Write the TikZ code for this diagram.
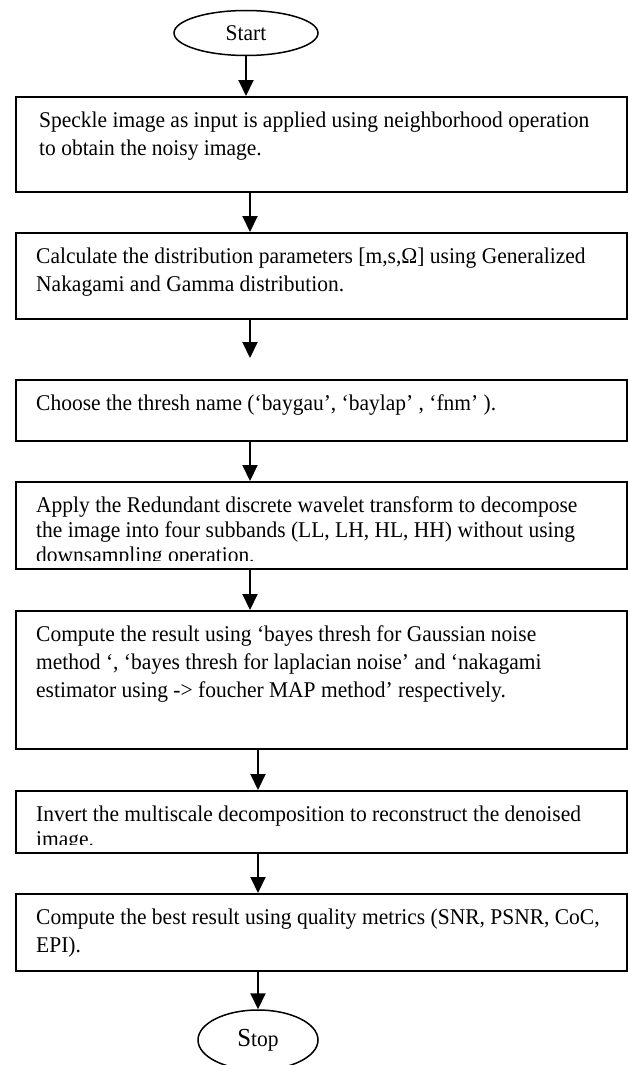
\documentclass[tikz,border=0pt]{standalone}
\usepackage{fontspec}
\setmainfont{Liberation Serif}[FakeStretch=0.955]
\usetikzlibrary{positioning,shapes,arrows.meta}

\tikzset{
  stepbox/.style={draw, line width=1.5pt, minimum width=611pt, anchor=north west, inner sep=0pt},
  steptext/.style={align=left, inner sep=0pt, font=\fontsize{22.5}{28}\selectfont},
  term/.style={draw, ellipse, line width=1.5pt, inner sep=0pt, font=\fontsize{22.5}{26}\selectfont},
  arr/.style={line width=2pt, -{Triangle[width=15pt,length=16pt]}}
}

\begin{document}
\begin{tikzpicture}[x=1pt, y=-1pt]
  \useasboundingbox (0,0) rectangle (627,1065);
  % start and stop
  \node[term, minimum width=144pt, minimum height=45pt] (start) at (246,33) {Start};
  \node[term, minimum width=120pt, minimum height=60pt] (stop) at (258,1040) {{\fontsize{26}{26}\selectfont S}top};
  % the seven steps
  \node[stepbox, minimum height=95pt] (b1) at (15,96) {};
  \node[stepbox, minimum height=86pt] (b2) at (15,232) {};
  \node[stepbox, minimum height=61pt] (b3) at (15,379) {};
  \node[stepbox, minimum height=87pt] (b4) at (15,481) {};
  \node[stepbox, minimum height=138pt] (b5) at (15,610) {};
  \node[stepbox, minimum height=62pt] (b6) at (15,790) {};
  \node[stepbox, minimum height=77pt] (b7) at (15,893) {};
  % texts, cut at the bottom of their box
  \begin{scope}
    \clip \foreach \b in {b1,b2,b3,b4,b5,b6,b7} {(\b.north west) rectangle ([yshift=9pt]\b.south east)};
    \node[steptext, below right=12pt and 24pt of b1.north west] (t1) {\strut Speckle image as input is applied using neighborhood operation\\to obtain the noisy image.};
    \node[steptext, below right=12pt and 21pt of b2.north west] (t2) {\strut Calculate the distribution parameters [m,s,Ω] using Generalized\\Nakagami and Gamma distribution.};
    \node[steptext, below right=12pt and 21pt of b3.north west] (t3) {\strut Choose the thresh name (‘baygau’, ‘baylap’ , ‘fnm’ ).};
    \node[steptext, below right=12pt and 21pt of b4.north west] (t4) {\strut Apply the Redundant discrete wavelet transform to decompose\\[-3pt]the image into four subbands (LL, LH, HL, HH) without using\\[-3pt]downsampling operation.};
    \node[steptext, below right=12pt and 21pt of b5.north west] (t5) {\strut Compute the result using ‘bayes thresh for Gaussian noise\\method ‘, ‘bayes thresh for laplacian noise’ and ‘nakagami\\estimator using -> foucher MAP method’ respectively.};
    \node[steptext, below right=12pt and 21pt of b6.north west] (t6) {\strut Invert the multiscale decomposition to reconstruct the denoised\\[-3pt]image.};
    \node[steptext, below right=12pt and 21pt of b7.north west] (t7) {\strut Compute the best result using quality metrics (SNR, PSNR, CoC,\\EPI).};
  \end{scope}
  % arrows
  \coordinate (colL) at (250,0);
  \coordinate (gap) at (250,358);
  \draw[arr] (start) -- (b1.north -| start);
  \draw[arr] (b1.south -| colL) -- (b2.north -| colL);
  \draw[arr] (b2.south -| colL) -- (gap);
  \foreach \a/\b in {b3/b4, b4/b5}
    \draw[arr] (\a.south -| colL) -- (\b.north -| colL);
  \foreach \a/\b in {b5/b6, b6/b7}
    \draw[arr] (\a.south -| stop) -- (\b.north -| stop);
  \draw[arr] (b7.south -| stop) -- (stop);
\end{tikzpicture}
\end{document}
